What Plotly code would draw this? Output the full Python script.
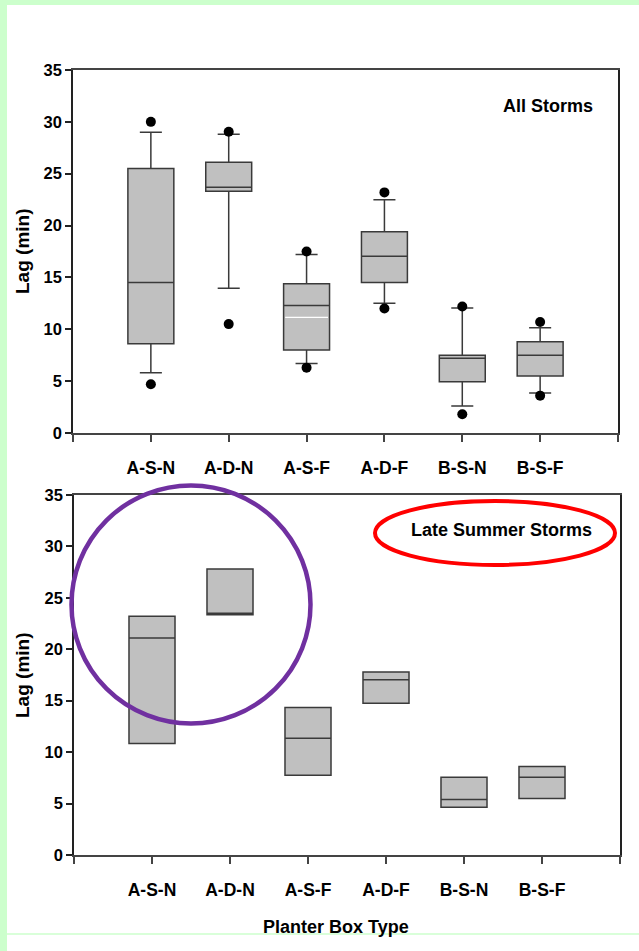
import plotly.graph_objects as go

W, H = 639, 951

# Planter box categories and their positions along the x axis
groups = ["A-S-N", "A-D-N", "A-S-F", "A-D-F", "B-S-N", "B-S-F"]
positions = [1, 2, 3, 4, 5, 6]

# All storms: box statistics (minutes)
all_q1 = [8.6, 23.3, 8.0, 14.5, 4.95, 5.5]
all_median = [14.5, 23.7, 12.3, 17.05, 7.2, 7.5]
all_q3 = [25.5, 26.1, 14.4, 19.4, 7.5, 8.8]
all_lower = [5.8, 13.95, 6.7, 12.5, 2.6, 3.85]
all_upper = [29.0, 28.8, 17.2, 22.5, 12.05, 10.15]
all_mean = [None, None, 11.15, None, None, None]
all_out_hi = [30.0, 29.05, 17.5, 23.2, 12.2, 10.7]
all_out_lo = [4.7, 10.5, 6.3, 12.0, 1.8, 3.6]

# Late summer storms: box statistics (minutes)
ls_q1 = [10.85, 23.35, 7.75, 14.75, 4.65, 5.5]
ls_median = [21.1, 23.5, 11.35, 17.05, 5.4, 7.55]
ls_q3 = [23.2, 27.8, 14.35, 17.8, 7.55, 8.6]

y_ticks = [0, 5, 10, 15, 20, 25, 30, 35]

BOX_WIDTH = 0.59
FONT = "Liberation Sans"
BOX_FILL = "#C0C0C0"
BOX_LINE = "#3a3a3a"


def px_x(p):
    return p / W


def px_y(p):
    return 1 - p / H


fig = go.Figure()

# --- top panel: all storms ---
fig.add_trace(go.Box(
    x=positions, q1=all_q1, median=all_median, q3=all_q3,
    lowerfence=all_lower, upperfence=all_upper,
    width=BOX_WIDTH, whiskerwidth=0.48, boxpoints=False,
    fillcolor=BOX_FILL, line=dict(color=BOX_LINE, width=1.5),
    xaxis="x", yaxis="y", showlegend=False, hoverinfo="skip",
))

mx, my = [], []
for p, m in zip(positions, all_mean):
    if m is not None:
        mx += [p - BOX_WIDTH / 2 + 0.02, p + BOX_WIDTH / 2 - 0.02, None]
        my += [m, m, None]
fig.add_trace(go.Scatter(
    x=mx, y=my, mode="lines", line=dict(color="white", width=1.3),
    xaxis="x", yaxis="y", showlegend=False, hoverinfo="skip",
))

fig.add_trace(go.Scatter(
    x=positions + positions, y=all_out_hi + all_out_lo, mode="markers",
    marker=dict(color="black", size=10),
    xaxis="x", yaxis="y", showlegend=False, hoverinfo="skip",
))

# --- bottom panel: late summer storms (boxes only) ---
fig.add_trace(go.Box(
    x=positions, q1=ls_q1, median=ls_median, q3=ls_q3,
    lowerfence=ls_q1, upperfence=ls_q3,
    width=BOX_WIDTH, whiskerwidth=0, boxpoints=False,
    fillcolor=BOX_FILL, line=dict(color=BOX_LINE, width=1.5),
    xaxis="x2", yaxis="y2", showlegend=False, hoverinfo="skip",
))

tick_font = dict(family=FONT, size=17.5, color="black", weight="bold")
ytick_font = dict(family=FONT, size=16.5, color="black", weight="bold")


def xaxis_cfg(domain, anchor):
    return dict(
        domain=domain, anchor=anchor, range=[0, 7],
        tickvals=[0] + positions + [7], ticktext=[""] + groups + [""],
        ticks="outside", ticklen=7, tickwidth=1.5, tickcolor="#444",
        showline=True, linecolor="#444", linewidth=1.5, mirror=True,
        showgrid=False, zeroline=False, tickfont=tick_font,
        ticklabelstandoff=11, automargin=False, fixedrange=True,
    )


def yaxis_cfg(domain, anchor):
    return dict(
        domain=domain, anchor=anchor, range=[0, 35],
        tickvals=y_ticks, ticks="outside", ticklen=6, tickwidth=1.5,
        tickcolor="#222", showline=True, linecolor="#222", linewidth=1.5,
        mirror=True, showgrid=False, zeroline=False, tickfont=ytick_font,
        automargin=False, fixedrange=True,
    )


fig.update_layout(
    width=W, height=H,
    margin=dict(l=0, r=0, t=0, b=0),
    paper_bgcolor="white", plot_bgcolor="white",
    xaxis=xaxis_cfg([px_x(73), px_x(618)], "y"),
    yaxis=yaxis_cfg([px_y(433), px_y(70)], "x"),
    xaxis2=xaxis_cfg([px_x(74), px_x(620)], "y2"),
    yaxis2=yaxis_cfg([px_y(855), px_y(495)], "x2"),
    showlegend=False,
)

ann_font = dict(family=FONT, size=18, color="black", weight="bold")
fig.add_annotation(text="All Storms", x=px_x(595), y=px_y(106),
                   xref="paper", yref="paper", xanchor="right", yanchor="middle",
                   showarrow=False, font=ann_font)
fig.add_annotation(text="Late Summer Storms", x=px_x(501), y=px_y(530),
                   xref="paper", yref="paper", xanchor="center", yanchor="middle",
                   showarrow=False, font=ann_font)
for yc in (251, 675):
    fig.add_annotation(text="Lag (min)", x=px_x(22), y=px_y(yc), textangle=-90,
                       xref="paper", yref="paper", xanchor="center", yanchor="middle",
                       showarrow=False, font=dict(family=FONT, size=19, color="black", weight="bold"))
fig.add_annotation(text="Planter Box Type", x=px_x(336), y=px_y(927),
                   xref="paper", yref="paper", xanchor="center", yanchor="middle",
                   showarrow=False, font=ann_font)

# page frame: light green strips on left and top, thin rule near bottom
GREEN = "#CCFFCC"
fig.add_shape(type="rect", xref="paper", yref="paper", x0=0, x1=px_x(7), y0=0, y1=1,
              fillcolor=GREEN, line=dict(width=0), layer="below")
fig.add_shape(type="rect", xref="paper", yref="paper", x0=0, x1=1, y0=px_y(5), y1=1,
              fillcolor=GREEN, line=dict(width=0), layer="below")
fig.add_shape(type="line", xref="paper", yref="paper", x0=px_x(7), x1=1,
              y0=px_y(934), y1=px_y(934), line=dict(color=GREEN, width=1.5))

# highlight ellipses
fig.add_shape(type="circle", xref="paper", yref="paper",
              x0=px_x(71.5), x1=px_x(310.5), y0=px_y(723.5), y1=px_y(485.5),
              line=dict(color="#7030A0", width=4.5))
fig.add_shape(type="circle", xref="paper", yref="paper",
              x0=px_x(375), x1=px_x(615), y0=px_y(565), y1=px_y(501),
              line=dict(color="#FF0000", width=4))

fig.write_html("out.html")
